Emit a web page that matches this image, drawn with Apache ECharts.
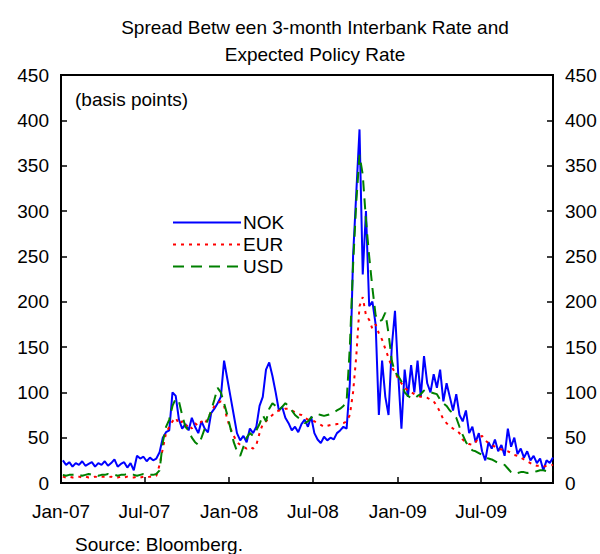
<!DOCTYPE html>
<html>
<head>
<meta charset="utf-8">
<script src="https://cdn.jsdelivr.net/npm/echarts@6/dist/echarts.min.js"></script>
<style>html,body{margin:0;padding:0;background:#fff}#c{width:600px;height:554px}</style>
</head>
<body>
<div id="c"></div>
<script>
// Weekly observation dates
const weeks = [
'2007-01-05','2007-01-12','2007-01-19','2007-01-26',
'2007-02-02','2007-02-09','2007-02-16','2007-02-23',
'2007-03-02','2007-03-09','2007-03-16','2007-03-23','2007-03-30',
'2007-04-06','2007-04-13','2007-04-20','2007-04-27',
'2007-05-04','2007-05-11','2007-05-18','2007-05-25',
'2007-06-01','2007-06-08','2007-06-15','2007-06-22','2007-06-29',
'2007-07-06','2007-07-13','2007-07-20','2007-07-27',
'2007-08-03','2007-08-10','2007-08-17','2007-08-24','2007-08-31',
'2007-09-07','2007-09-14','2007-09-21','2007-09-28',
'2007-10-05','2007-10-12','2007-10-19','2007-10-26',
'2007-11-02','2007-11-09','2007-11-16','2007-11-23','2007-11-30',
'2007-12-07','2007-12-14','2007-12-21','2007-12-28',
'2008-01-04','2008-01-11','2008-01-18','2008-01-25',
'2008-02-01','2008-02-08','2008-02-15','2008-02-22','2008-02-29',
'2008-03-07','2008-03-14','2008-03-21','2008-03-28',
'2008-04-04','2008-04-11','2008-04-18','2008-04-25',
'2008-05-02','2008-05-09','2008-05-16','2008-05-23','2008-05-30',
'2008-06-06','2008-06-13','2008-06-20','2008-06-27',
'2008-07-04','2008-07-11','2008-07-18','2008-07-25',
'2008-08-01','2008-08-08','2008-08-15','2008-08-22','2008-08-29',
'2008-09-05','2008-09-12','2008-09-19','2008-09-26',
'2008-10-03','2008-10-10','2008-10-17','2008-10-24','2008-10-31',
'2008-11-07','2008-11-14','2008-11-21','2008-11-28',
'2008-12-05','2008-12-12','2008-12-19','2008-12-26',
'2009-01-02','2009-01-09','2009-01-16','2009-01-23','2009-01-30',
'2009-02-06','2009-02-13','2009-02-20','2009-02-27',
'2009-03-06','2009-03-13','2009-03-20','2009-03-27',
'2009-04-03','2009-04-10','2009-04-17','2009-04-24',
'2009-05-01','2009-05-08','2009-05-15','2009-05-22','2009-05-29',
'2009-06-05','2009-06-12','2009-06-19','2009-06-26',
'2009-07-03','2009-07-10','2009-07-17','2009-07-24','2009-07-31',
'2009-08-07','2009-08-14','2009-08-21','2009-08-28',
'2009-09-04','2009-09-11','2009-09-18','2009-09-25',
'2009-10-02','2009-10-09','2009-10-16','2009-10-23','2009-10-30',
'2009-11-06','2009-11-13','2009-11-20','2009-11-27',
'2009-12-04'
];

// Spread, basis points
const nok = [
25,20,23,18,22,20,24,19,21,23,
18,22,20,24,19,22,26,18,21,23,
17,22,14,30,27,29,24,28,25,27,
34,50,56,58,100,96,70,60,65,58,
72,62,55,68,60,56,77,82,88,95,
135,115,95,75,55,47,52,45,60,55,
62,85,95,125,133,118,100,80,84,72,
66,58,62,56,65,70,62,73,55,48,
44,51,47,50,48,55,58,62,60,110,
250,320,390,230,300,195,200,175,75,135,
95,75,150,190,120,60,125,95,130,100,
135,95,140,110,100,120,105,125,90,110,
95,80,98,75,68,80,55,62,45,55,
35,25,45,38,48,35,42,30,60,40,
50,32,38,28,35,25,30,22,27,14,
25,22,28
];
const eur = [
7,6,7,6,7,7,6,7,6,6,
7,6,7,7,6,7,6,6,7,6,
7,6,6,7,6,7,6,7,7,8,
20,38,55,62,68,72,65,68,62,65,
60,66,63,68,65,72,78,85,88,90,
85,70,60,52,45,42,40,38,40,38,
42,55,65,68,72,75,78,80,80,82,
82,80,78,76,75,72,70,70,68,66,
64,62,63,64,64,65,65,66,68,75,
100,140,195,205,185,180,170,175,165,158,
148,138,128,122,115,110,105,102,100,98,
96,95,95,94,92,90,85,78,70,66,
63,60,58,55,48,45,43,42,45,50,
52,47,44,42,40,38,37,36,35,33,
31,30,28,26,24,22,20,19,19,18,
19,19,20
];
const usd = [
9,8,9,9,10,9,8,9,10,9,
9,8,9,9,10,9,9,8,9,9,
10,9,9,8,9,10,9,9,9,10,
14,45,62,70,85,93,90,75,62,58,
50,45,42,50,60,70,80,92,105,100,
88,75,60,45,35,30,40,50,55,52,
58,65,75,68,82,88,85,80,84,88,
85,80,75,72,70,66,68,72,75,76,
75,74,75,76,78,80,82,85,90,150,
240,310,362,340,290,250,215,185,178,180,
188,165,135,122,118,112,100,96,94,93,
96,98,102,100,100,99,98,92,88,85,
80,77,72,62,53,45,40,36,35,33,
31,28,27,26,24,22,21,20,16,12,
10,11,12,12,11,12,12,13,14,14,
13,13,14
];

const xTickDates = ['2007-01-01','2007-07-01','2008-01-01','2008-07-01','2009-01-01','2009-07-01'];
const xTickLabels = ['Jan-07','Jul-07','Jan-08','Jul-08','Jan-09','Jul-09'];
const xMinDate = '2007-01-01';
const xMaxDate = '2009-12-04';
const seriesNames = ['NOK','EUR','USD'];

const toTime = s => { const p = s.split('-').map(Number); return new Date(p[0], p[1]-1, p[2]).getTime(); };
const tickTimes = xTickDates.map(toTime);
const pair = vals => weeks.map((d, i) => [toTime(d), vals[i]]);

const FONT = "'Liberation Sans', Arial, sans-serif";
const axisLine = { show: true, lineStyle: { color: '#000', width: 2 } };

const chart = echarts.init(document.getElementById('c'), null, { renderer: 'svg' });
chart.setOption({
  animation: false,
  backgroundColor: '#fff',
  title: {
    text: 'Spread Betw een 3-month Interbank Rate and\nExpected Policy Rate',
    left: 310, top: 9, textAlign: 'center',
    textStyle: { fontFamily: FONT, fontSize: 19, fontWeight: 'normal', color: '#000', lineHeight: 27 }
  },
  legend: {
    data: seriesNames,
    orient: 'vertical', left: 167, top: 208,
    itemWidth: 68, itemHeight: 12, itemGap: 3,
    itemStyle: { opacity: 0 },
    textStyle: { fontFamily: FONT, fontSize: 19, color: '#000', padding: [0,0,0,-3] }
  },
  grid: { left: 61, right: 47, top: 75, bottom: 71, show: true, borderColor: '#000', borderWidth: 2 },
  xAxis: {
    type: 'value', min: toTime(xMinDate), max: toTime(xMaxDate),
    axisLine: axisLine,
    axisTick: { show: true, inside: true, length: 6, lineStyle: { color: '#000', width: 1.5 }, customValues: tickTimes },
    axisLabel: {
      customValues: tickTimes, margin: 19,
      fontFamily: FONT, fontSize: 19, color: '#000',
      formatter: v => xTickLabels[tickTimes.indexOf(v)]
    },
    splitLine: { show: false }
  },
  yAxis: [
    { type: 'value', min: 0, max: 450, interval: 50, position: 'left',
      axisLine: axisLine,
      axisTick: { show: true, inside: true, length: 6, lineStyle: { color: '#000', width: 1.5 } },
      axisLabel: { margin: 12, fontFamily: FONT, fontSize: 19, color: '#000' },
      splitLine: { show: false } },
    { type: 'value', min: 0, max: 450, interval: 50, position: 'right',
      axisLine: axisLine,
      axisTick: { show: true, inside: true, length: 6, lineStyle: { color: '#000', width: 1.5 } },
      axisLabel: { margin: 12, fontFamily: FONT, fontSize: 19, color: '#000' },
      splitLine: { show: false } }
  ],
  graphic: [
    { type: 'text', left: 75, top: 90, style: { text: '(basis points)', fontFamily: FONT, fontSize: 19, fill: '#000' } },
    { type: 'text', left: 75, top: 535, style: { text: 'Source: Bloomberg.', fontFamily: FONT, fontSize: 19, fill: '#000' } }
  ],
  series: [
    { name: seriesNames[0], type: 'line', data: pair(nok), symbol: 'none', showSymbol: false,
      lineStyle: { color: '#0000FF', width: 2 }, itemStyle: { color: '#0000FF' } },
    { name: seriesNames[1], type: 'line', data: pair(eur), symbol: 'none', showSymbol: false,
      lineStyle: { color: '#FF0000', width: 2, type: [3, 5] }, itemStyle: { color: '#FF0000' } },
    { name: seriesNames[2], type: 'line', data: pair(usd), symbol: 'none', showSymbol: false,
      lineStyle: { color: '#008000', width: 2, type: [11, 7] }, itemStyle: { color: '#008000' } }
  ]
});
</script>
</body>
</html>
